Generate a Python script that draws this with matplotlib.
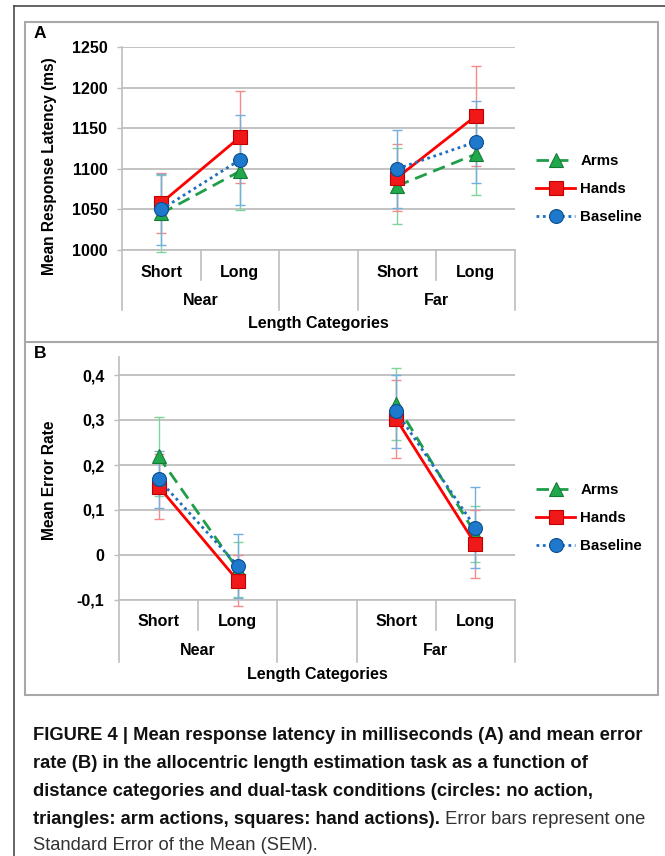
import matplotlib
matplotlib.use("Agg")
import matplotlib.pyplot as plt
from matplotlib.lines import Line2D
from matplotlib.patches import Rectangle
from matplotlib.ticker import FuncFormatter

plt.rcParams['font.family'] = ['Liberation Sans', 'DejaVu Sans']

# ---------------- data ----------------
groups = ["Near", "Far"]
lengths = ["Short", "Long"]
series_names = ["Arms", "Hands", "Baseline"]

lat_arms = [1045, 1097, 1079, 1118]
lat_arms_se = [47, 48, 47, 50]
lat_hands = [1058, 1139, 1089, 1165]
lat_hands_se = [37, 57, 41, 62]
lat_base = [1050, 1111, 1100, 1133]
lat_base_se = [44, 55, 48, 51]

err_arms = [0.219, -0.032, 0.336, 0.047]
err_arms_se = [0.087, 0.062, 0.080, 0.063]
err_hands = [0.152, -0.057, 0.302, 0.024]
err_hands_se = [0.073, 0.057, 0.086, 0.075]
err_base = [0.168, -0.024, 0.319, 0.061]
err_base_se = [0.064, 0.071, 0.081, 0.090]

lat_ticks = [1000, 1050, 1100, 1150, 1200, 1250]
err_ticks = [-0.1, 0, 0.1, 0.2, 0.3, 0.4]

caption_lines = [
    [("FIGURE 4 | Mean response latency in milliseconds (A) and mean error", "bold")],
    [("rate (B) in the allocentric length estimation task as a function of", "bold")],
    [("distance categories and dual-task conditions (circles: no action,", "bold")],
    [("triangles: arm actions, squares: hand actions).", "bold"),
     (" Error bars represent one", "normal")],
    [("Standard Error of the Mean (SEM).", "normal")],
]

# ---------------- styles ----------------
W, H = 665, 856
styles = {
    "Arms": dict(color="#1E9E48", ls=(0, (4.5, 2.5)), marker="^", mfc="#22A84C", mec="#137A35",
                 ecolor="#7ED49B", ms=10.5),
    "Hands": dict(color="#FF0000", ls="-", marker="s", mfc="#F01818", mec="#C00000",
                  ecolor="#F58A8A", ms=9.5),
    "Baseline": dict(color="#1F6FC0", ls=(0, (1, 1.3)), marker="o", mfc="#1E78CC", mec="#0B4E8F",
                     ecolor="#72AEE0", ms=10),
}
grid_c = "#BEBEBE"

fig = plt.figure(figsize=(W / 100, H / 100), dpi=100)


def fx(px):
    return px / W


def fy(py):
    return 1 - py / H


# x positions: groups separated by an empty slot
xpos = []
for gi, g in enumerate(groups):
    for li, l in enumerate(lengths):
        xpos.append(gi * (len(lengths) + 1) + li)
nslots = len(groups) * (len(lengths) + 1) - 1


def make_panel(left, right, top_px, bottom_px, ylim, ticks, fmt, data, ylab, ylab_center,
               tick_off, group_off, title_off, short_len, long_len, ylabel_x):
    ax = fig.add_axes([fx(left), fy(bottom_px), fx(right - left), (bottom_px - top_px) / H])
    ax.set_xlim(-0.5, nslots - 0.5)
    ax.set_ylim(*ylim)
    ax.set_yticks(ticks)
    ax.yaxis.set_major_formatter(FuncFormatter(fmt))
    ax.set_xticks([])
    for s in ["top", "right"]:
        ax.spines[s].set_visible(False)
    for s in ["left", "bottom"]:
        ax.spines[s].set_color(grid_c)
        ax.spines[s].set_linewidth(1.2)
    ax.tick_params(axis="y", length=3.5, width=1, color=grid_c, pad=7,
                   labelsize=11.5)
    for lab in ax.get_yticklabels():
        lab.set_fontweight("bold")
    ax.set_axisbelow(True)
    ax.yaxis.grid(True, color=grid_c, lw=1.3)
    ax.set_facecolor("none")

    for name, (vals, se) in zip(series_names, data):
        st = styles[name]
        for gi in range(len(groups)):
            idx = [gi * len(lengths) + li for li in range(len(lengths))]
            xs = [xpos[i] for i in idx]
            ys = [vals[i] for i in idx]
            es = [se[i] for i in idx]
            ax.errorbar(xs, ys, yerr=es, fmt="none", ecolor=st["ecolor"], elinewidth=1.0,
                        capsize=3.5, capthick=1.0, zorder=2, clip_on=False)
            ax.plot(xs, ys, color=st["color"], ls=st["ls"], lw=2.0, marker=st["marker"],
                    ms=st["ms"], mfc=st["mfc"], mec=st["mec"], mew=0.8, zorder=3,
                    clip_on=False, label=name if gi == 0 else None)

    # category axis structure
    axh = bottom_px - top_px
    tr = ax.get_xaxis_transform()
    edges = [x - 0.5 for x in range(nslots + 1)]
    group_edges = [-0.5]
    for gi in range(len(groups)):
        group_edges.append(gi * (len(lengths) + 1) + len(lengths) - 0.5)
        if gi < len(groups) - 1:
            group_edges.append(gi * (len(lengths) + 1) + len(lengths) + 0.5)
    for e in edges:
        ln = long_len if e in group_edges else short_len
        ax.plot([e, e], [0, -ln / axh], transform=tr, color=grid_c, lw=1.2, clip_on=False)
    for i, x in enumerate(xpos):
        ax.annotate(lengths[i % len(lengths)], xy=(x, 0), xycoords=tr,
                    xytext=(0, -tick_off * 0.72), textcoords="offset points",
                    ha="center", va="center_baseline", fontsize=11.5, fontweight="bold")
    for gi, g in enumerate(groups):
        cx = sum(xpos[gi * len(lengths):(gi + 1) * len(lengths)]) / len(lengths)
        ax.annotate(g, xy=(cx, 0), xycoords=tr, xytext=(0, -group_off * 0.72),
                    textcoords="offset points", ha="center", va="center_baseline",
                    fontsize=11.5, fontweight="bold")
    ax.annotate("Length Categories", xy=((nslots - 1) / 2, 0), xycoords=tr,
                xytext=(0, -title_off * 0.72), textcoords="offset points",
                ha="center", va="center_baseline", fontsize=11.5, fontweight="bold")
    fig.text(fx(ylabel_x), fy(ylab_center), ylab, rotation=90, ha="center", va="center",
             fontsize=11.2, fontweight="bold")
    return ax


axA = make_panel(122, 515, 47, 250, (1000, 1250), lat_ticks, lambda v, p: f"{v:.0f}",
                 [(lat_arms, lat_arms_se), (lat_hands, lat_hands_se), (lat_base, lat_base_se)],
                 "Mean Response Latency (ms)", 166, 21, 49, 72, 30, 60, 50)


def comma_fmt(v, p):
    if abs(v) < 1e-9:
        return "0"
    return f"{v:.1f}".replace(".", ",")


axB = make_panel(119, 515, 357, 600, (-0.1, 0.44), err_ticks, comma_fmt,
                 [(err_arms, err_arms_se), (err_hands, err_hands_se), (err_base, err_base_se)],
                 "Mean Error Rate", 480, 20, 49, 73, 30, 62, 50)

# legends
for ax, cy in [(axA, 189), (axB, 518)]:
    h, l = ax.get_legend_handles_labels()
    leg = fig.legend(h, l, loc="center left", bbox_to_anchor=(fx(536), fy(cy)),
                     frameon=False, fontsize=10.8, handlelength=2.6, handletextpad=0.35,
                     labelspacing=0.95, borderaxespad=0, borderpad=0)
    for t in leg.get_texts():
        t.set_fontweight("bold")

# panel letters
fig.text(fx(40), fy(33), "A", ha="center", va="center", fontsize=12.5, fontweight="bold")
fig.text(fx(40), fy(354), "B", ha="center", va="center", fontsize=12.5, fontweight="bold")

# frames (figure decoration)
fig.add_artist(Line2D([fx(14), fx(14)], [fy(6), fy(856)], color="#4A4A4A", lw=1.2))
fig.add_artist(Line2D([fx(14), fx(665)], [fy(6), fy(6)], color="#4A4A4A", lw=1.2))
fig.add_artist(Rectangle((fx(25), fy(695)), fx(658 - 25), (695 - 22) / H, fill=False,
                         ec="#A8A8A8", lw=1.5))
fig.add_artist(Line2D([fx(25), fx(658)], [fy(342), fy(342)], color="#A8A8A8", lw=1.5))

# caption
fig.canvas.draw()
renderer = fig.canvas.get_renderer()
cap_size = 13.2
line_y = [736, 764, 792, 820, 846]
for parts, yy in zip(caption_lines, line_y):
    x = 33
    for txt, wt in parts:
        t = fig.text(fx(x), fy(yy), txt, ha="left", va="center", fontsize=cap_size,
                     fontweight=wt, color="#111111" if wt == "bold" else "#333333")
        bb = t.get_window_extent(renderer=renderer)
        x += bb.width

fig.savefig("out.png", dpi=100)
